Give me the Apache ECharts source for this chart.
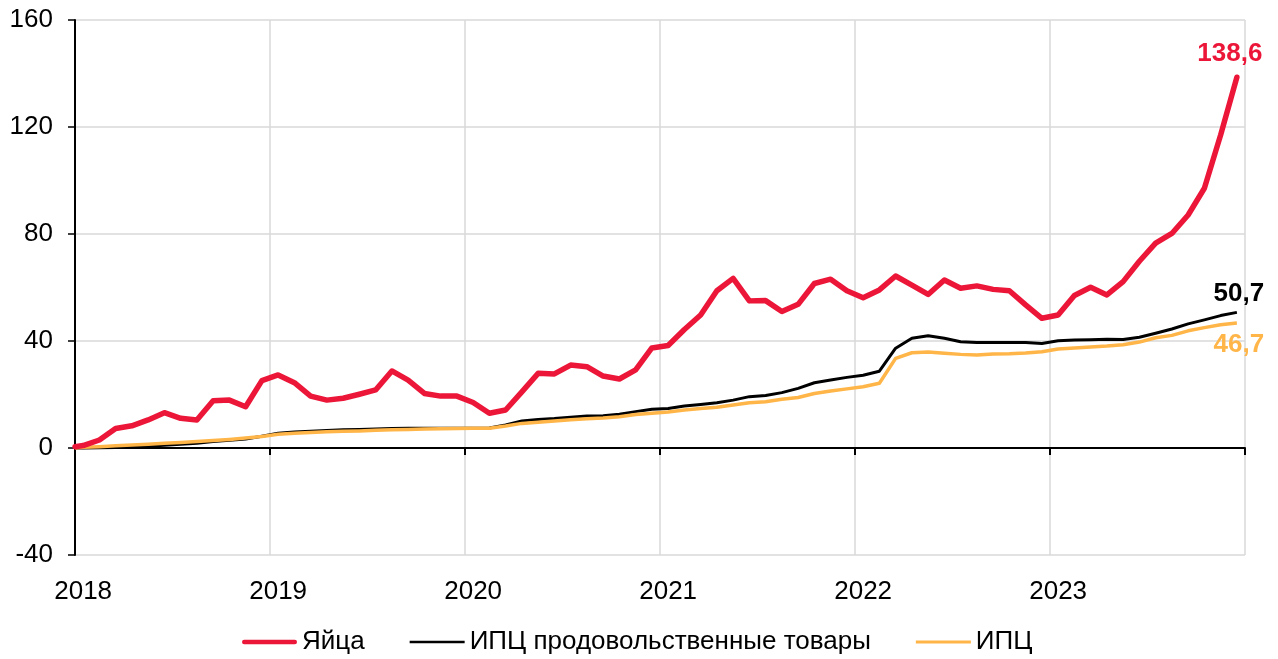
<!DOCTYPE html>
<html>
<head>
<meta charset="utf-8">
<script src="https://cdn.jsdelivr.net/npm/echarts/dist/echarts.min.js"></script>
<style>
  html, body { margin: 0; padding: 0; background: #fff; }
  #main { width: 1278px; height: 659px; }
</style>
</head>
<body>
<div id="main"></div>
<script>
// годы на оси и названия рядов
var years = ['2018', '2019', '2020', '2021', '2022', '2023'];
var names = ['Яйца', 'ИПЦ продовольственные товары', 'ИПЦ'];

// первое значение - база у оси, дальше помесячно янв.2018 - дек.2023
var eggs = [0.5,
  0.9, 3.0, 7.3, 8.3, 10.5, 13.2, 11.1, 10.5, 17.7, 17.9, 15.4, 25.2,
  27.3, 24.4, 19.4, 17.9, 18.6, 20.1, 21.7, 28.8, 25.4, 20.4, 19.4, 19.4,
  17.0, 13.0, 14.2, 21.0, 27.9, 27.7, 31.0, 30.4, 26.9, 25.8, 29.2, 37.4,
  38.3, 44.3, 49.7, 58.8, 63.4, 55.0, 55.1, 51.0, 53.7, 61.5, 63.1, 58.8,
  56.2, 59.1, 64.3, 60.9, 57.4, 62.8, 59.7, 60.6, 59.3, 58.8, 53.5, 48.5,
  49.7, 57.0, 60.1, 57.2, 62.2, 69.8, 76.6, 80.2, 87.1, 97.1, 117.0, 138.6];
var cpiFood = [0,
  0.0, 0.1, 0.2, 0.4, 0.7, 1.0, 1.4, 1.8, 2.4, 2.9, 3.4, 4.4,
  5.5, 6.0, 6.3, 6.5, 6.8, 6.9, 7.1, 7.3, 7.4, 7.4, 7.4, 7.4,
  7.4, 7.5, 8.6, 10.1, 10.7, 11.0, 11.5, 12.0, 12.1, 12.6, 13.6, 14.5,
  14.8, 15.7, 16.3, 16.9, 17.9, 19.2, 19.6, 20.7, 22.3, 24.4, 25.4, 26.4,
  27.2, 28.7, 37.3, 41.0, 42.0, 41.0, 39.7, 39.4, 39.4, 39.4, 39.4, 39.1,
  40.1, 40.4, 40.5, 40.7, 40.6, 41.4, 42.9, 44.5, 46.4, 47.9, 49.5, 50.7];
var cpi = [0,
  0.3, 0.5, 0.8, 1.1, 1.4, 1.8, 2.1, 2.4, 2.8, 3.2, 3.7, 4.3,
  5.1, 5.5, 5.8, 6.1, 6.3, 6.4, 6.6, 6.8, 6.9, 7.1, 7.2, 7.3,
  7.4, 7.4, 8.2, 9.2, 9.6, 10.1, 10.6, 10.9, 11.2, 11.7, 12.5, 13.0,
  13.5, 14.2, 14.8, 15.2, 16.1, 16.9, 17.3, 18.2, 18.9, 20.4, 21.3, 22.1,
  22.9, 24.2, 33.5, 35.6, 35.9, 35.4, 35.0, 34.8, 35.1, 35.2, 35.5, 36.0,
  37.0, 37.4, 37.8, 38.1, 38.6, 39.6, 41.2, 42.1, 43.8, 45.0, 46.1, 46.7];

var colors = ['#EC1639', '#000000', '#FFB547'];
var FONT = '"Liberation Sans", Arial, sans-serif';

// месяцы для нижней оси с подписями
var months = [];
years.forEach(function (y) {
  for (var m = 1; m <= 12; m++) months.push(y + '-' + m);
});

// точка 0 - у оси, месяцы по серединам
function toPoints(arr) {
  return arr.map(function (v, i) {
    return [i === 0 ? 0 : i - 0.5, v];
  });
}

function endMark(arr, color, offset) {
  var last = arr.length - 1;
  return {
    symbol: 'circle',
    symbolSize: 1,
    itemStyle: { color: 'rgba(0,0,0,0)' },
    label: {
      show: true,
      position: 'inside',
      offset: offset,
      color: color,
      fontSize: 26,
      fontWeight: 'bold',
      fontFamily: FONT,
      formatter: function () { return String(arr[last]).replace('.', ','); }
    },
    data: [{ coord: [last - 0.5, arr[last]] }]
  };
}

var chart = echarts.init(document.getElementById('main'));
chart.setOption({
  animation: false,
  backgroundColor: '#fff',
  grid: { left: 75, right: 33, top: 20, bottom: 104 },
  legend: {
    left: 237,
    top: 624,
    itemWidth: 55,
    itemHeight: 14,
    itemGap: 45,
    textStyle: { fontSize: 26, color: '#000', fontFamily: FONT },
    data: [
      { name: names[0], icon: 'path://M2,0 H53 A2,2 0 0 1 53,4.5 H2 A2,2 0 0 1 2,0 Z' },
      { name: names[1], icon: 'path://M0,0 H55 V2.5 H0 Z' },
      { name: names[2], icon: 'path://M0,0 H55 V3 H0 Z' }
    ]
  },
  xAxis: [{
    type: 'value',
    min: 0,
    max: 72,
    interval: 12,
    axisLine: { onZero: true, lineStyle: { color: '#000', width: 2 } },
    axisTick: { show: true, length: 7, lineStyle: { color: '#000', width: 2 } },
    axisLabel: { show: false },
    splitLine: { show: true, lineStyle: { color: '#D9D9D9', width: 1.5 } }
  }, {
    type: 'category',
    position: 'bottom',
    data: months,
    boundaryGap: true,
    axisLine: { show: false },
    axisTick: { show: false },
    splitLine: { show: false },
    axisLabel: {
      interval: 11,
      margin: 24,
      fontSize: 26,
      color: '#000',
      fontFamily: FONT,
      formatter: function (v) { return v.split('-')[0]; }
    }
  }],
  yAxis: {
    type: 'value',
    min: -40,
    max: 160,
    interval: 40,
    axisLine: { show: true, lineStyle: { color: '#000', width: 2 } },
    axisTick: { show: true, length: 7, lineStyle: { color: '#000', width: 1.5 } },
    axisLabel: { margin: 22, fontSize: 26, color: '#000', fontFamily: FONT },
    splitLine: { lineStyle: { color: '#D9D9D9', width: 1.5 } }
  },
  series: [{
    name: names[0],
    type: 'line',
    xAxisIndex: 0,
    symbol: 'none',
    z: 4,
    data: toPoints(eggs),
    itemStyle: { color: colors[0] },
    lineStyle: { color: colors[0], width: 5.5, cap: 'round', join: 'round' },
    markPoint: endMark(eggs, colors[0], [-7, -23])
  }, {
    name: names[1],
    type: 'line',
    xAxisIndex: 0,
    symbol: 'none',
    z: 2,
    data: toPoints(cpiFood),
    itemStyle: { color: colors[1] },
    lineStyle: { color: colors[1], width: 3, join: 'round' },
    markPoint: endMark(cpiFood, colors[1], [2, -19])
  }, {
    name: names[2],
    type: 'line',
    xAxisIndex: 0,
    symbol: 'none',
    z: 3,
    data: toPoints(cpi),
    itemStyle: { color: colors[2] },
    lineStyle: { color: colors[2], width: 3.5, join: 'round' },
    markPoint: endMark(cpi, colors[2], [2, 22])
  }]
});
</script>
</body>
</html>
